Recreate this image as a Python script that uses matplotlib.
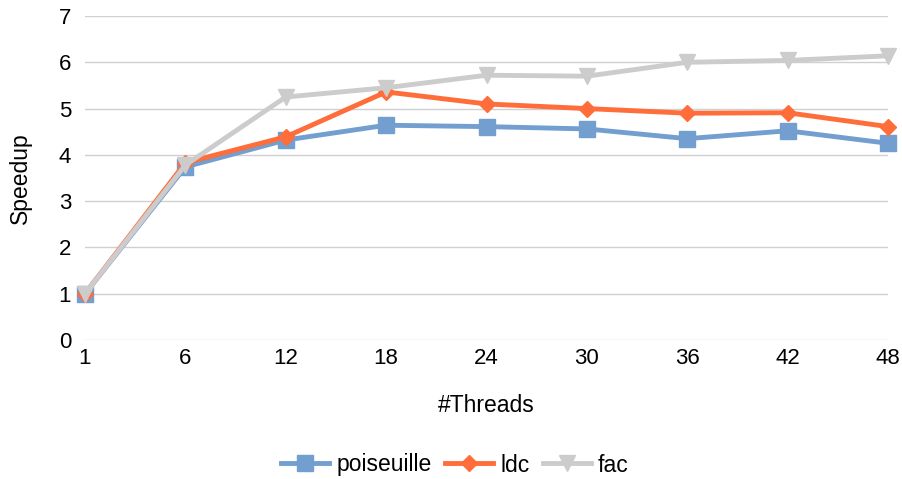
import matplotlib.pyplot as plt

threads = ["1", "6", "12", "18", "24", "30", "36", "42", "48"]
poiseuille = [1.0, 3.74, 4.32, 4.64, 4.61, 4.56, 4.35, 4.52, 4.25]
ldc = [1.0, 3.83, 4.39, 5.36, 5.10, 5.00, 4.90, 4.91, 4.61]
fac = [1.0, 3.78, 5.25, 5.45, 5.72, 5.70, 6.00, 6.04, 6.14]

plt.rcParams["font.family"] = ["Liberation Sans", "DejaVu Sans"]

fig = plt.figure(figsize=(9.02, 4.79), dpi=100)
ax = fig.add_axes([85 / 902, 1 - 340 / 479, (888 - 85) / 902, (340 - 16) / 479])

xs = list(range(len(threads)))
ax.plot(xs, poiseuille, color="#729fcf", lw=3.5, marker="s", ms=11, label="poiseuille", clip_on=False, zorder=3)
ax.plot(xs, ldc, color="#ff6d3a", lw=3.5, marker="D", ms=8.5, label="ldc", clip_on=False, zorder=4)
ax.plot(xs, fac, color="#cccccc", lw=3.5, marker="v", ms=12, label="fac", clip_on=False, zorder=5)

ax.set_xlim(0, len(threads) - 1)
ax.set_ylim(0, 7)
ax.set_xticks(xs)
ax.set_xticklabels(threads)
ax.set_yticks(range(8))
ax.tick_params(length=0, labelsize=16, colors="black")
ax.tick_params(axis="x", pad=6)
ax.tick_params(axis="y", pad=10)
ax.grid(axis="y", color="#d0d0d0", lw=1)
ax.set_axisbelow(True)
for s in ax.spines.values():
    s.set_visible(False)

ax.set_xlabel("#Threads", fontsize=16.5, labelpad=18)
ax.set_ylabel("Speedup", fontsize=16.5, labelpad=19)

fig.legend(loc="center", bbox_to_anchor=(455 / 902, 1 - 465 / 479), ncol=3, frameon=False,
           fontsize=16.5, handlelength=2.1, columnspacing=0.6, handletextpad=0.3)

fig.savefig("out.png", dpi=100)
